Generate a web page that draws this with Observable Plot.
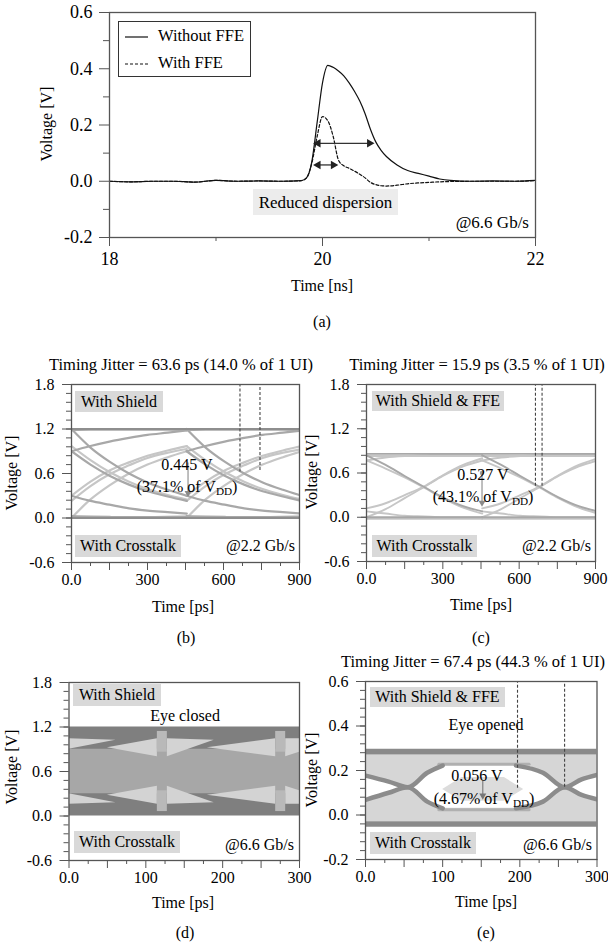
<!DOCTYPE html>
<html><head><meta charset="utf-8">
<script src="https://cdn.jsdelivr.net/npm/d3@7"></script>
<script src="https://cdn.jsdelivr.net/npm/@observablehq/plot@0.6"></script>
<style>
body{margin:0;background:#fff;}
#fig{position:relative;width:608px;height:948px;font-family:"Liberation Serif","Times New Roman",serif;color:#000;overflow:hidden;background:#fff}
.t{position:absolute;white-space:nowrap;line-height:1;font-family:inherit}
.box{position:absolute;display:flex;align-items:center;justify-content:center;white-space:nowrap;line-height:1;font-family:inherit}
sub{font-size:0.7em;vertical-align:-0.25em;line-height:0}
</style></head><body><div id="fig"></div><script>
// ---------------- DATA ----------------
// (a) pulse response, time in ns, voltage in V
const aTime = [18.0,18.2,18.4,18.6,18.8,19.0,19.2,19.4,19.6,19.8,19.85,19.9,19.95,20.0,20.05,20.1,20.15,20.2,20.25,20.3,20.35,20.4,20.45,20.5,20.55,20.6,20.7,20.8,20.9,21.0,21.1,21.2,21.4,21.6,21.8,22.0];
const aWithoutFFE = [0.000,-0.002,0.000,0.000,-0.003,0.003,0.000,0.001,0.000,0.002,0.012,0.07,0.21,0.35,0.412,0.405,0.392,0.375,0.35,0.32,0.285,0.24,0.185,0.14,0.11,0.088,0.058,0.038,0.028,0.018,0.008,0.003,0.000,0.001,0.000,0.003];
const aWithFFE = [0.000,-0.002,0.000,0.000,-0.003,0.003,0.000,0.001,0.000,0.002,0.012,0.065,0.16,0.23,0.215,0.16,0.075,0.055,0.046,0.036,0.025,0.012,-0.004,-0.012,-0.016,-0.017,-0.014,-0.009,-0.006,-0.004,-0.002,-0.001,0.000,0.000,0.000,0.002];
const aArrowY = [0.135, 0.058];
const aArrowX1 = [19.93, 19.93];
const aArrowX2 = [20.47, 20.13];

// (b) eye at 2.2 Gb/s with shield, time within one UI (ps)
const bUIStart = [0, 454.5];
const bTraceT = [0, 75, 150, 227, 300, 380, 455];
const bHighFlat  = [1.20,1.20,1.20,1.20,1.20,1.20,1.20];
const bHighFlat2 = [1.185,1.19,1.19,1.19,1.19,1.19,1.185];
const bLowFlat   = [0.00,0.00,0.00,0.00,0.00,0.00,0.00];
const bLowFlat2  = [0.025,0.018,0.014,0.012,0.012,0.014,0.02];
const bFallFull  = [1.20,0.95,0.76,0.60,0.48,0.38,0.30];
const bFallPart  = [0.90,0.72,0.57,0.45,0.36,0.29,0.23];
const bFallPart2 = [0.97,0.78,0.62,0.49,0.39,0.31,0.25];
const bRiseFull  = [0.00,0.25,0.44,0.60,0.72,0.82,0.90];
const bRisePart  = [0.30,0.49,0.64,0.75,0.84,0.91,0.97];
const bRisePart2 = [0.23,0.43,0.59,0.71,0.81,0.88,0.93];
const bHoldHigh  = [0.90,0.97,1.03,1.08,1.12,1.15,1.18];
const bHoldLow   = [0.30,0.23,0.18,0.13,0.10,0.08,0.06];
const bArrow = [460, 0.75, 0.31];           // t, from V, to V
const bJitterT = [665, 744];
const bJitterEnd = [0.62, 0.64];

// (c) eye at 2.2 Gb/s with shield & FFE
const cUIStart = [0, 454.5];
const cTraceT = [0, 75, 150, 227, 300, 380, 455];
const cHighFlat  = [0.86,0.86,0.86,0.86,0.86,0.86,0.86];
const cHighFlat2 = [0.83,0.83,0.83,0.83,0.83,0.83,0.83];
const cLowFlat   = [0.00,0.00,0.00,0.00,0.00,0.00,0.00];
const cLowFlat2  = [-0.02,-0.02,-0.02,-0.02,-0.02,-0.02,-0.02];
const cFallA = [0.84,0.71,0.56,0.41,0.27,0.15,0.08];
const cFallB = [0.77,0.66,0.54,0.40,0.26,0.13,0.05];
const cRiseA = [0.00,0.11,0.26,0.41,0.56,0.69,0.77];
const cRiseB = [0.12,0.19,0.30,0.42,0.57,0.71,0.80];
const cHoldHigh = [0.77,0.81,0.83,0.84,0.85,0.85,0.85];
const cHoldLow  = [0.08,0.05,0.02,0.01,0.00,0.00,0.00];
const cArrow = [454, 0.60, 0.17];
const cJitterT = [664, 690];
const cJitterEnd = [0.42, 0.42];

// (d) closed eye at 6.6 Gb/s: filled density regions [t1, t2, lo1, lo2, hi1, hi2]
const dBand = [0, 300, 0.0, 0.0, 1.2, 1.2];
const dMiddle = [0, 300, 0.30, 0.30, 0.90, 0.90];
const dLightWedges = [
  [0, 61, 0.90, 1.02, 1.04, 1.02], [50, 115, 0.92, 0.80, 0.92, 1.04],
  [128, 189, 0.80, 1.02, 1.04, 1.02], [180, 269, 0.92, 0.80, 0.92, 1.04],
  [282, 300, 0.80, 0.86, 1.04, 1.04],
  [0, 61, 0.16, 0.18, 0.30, 0.18], [50, 115, 0.28, 0.16, 0.28, 0.40],
  [128, 189, 0.16, 0.18, 0.40, 0.18], [180, 269, 0.28, 0.16, 0.28, 0.40],
  [282, 300, 0.16, 0.16, 0.40, 0.34]
];
const dPatches = [[115, 128, 0.86, 1.14], [269, 282, 0.86, 1.14], [115, 128, 0.06, 0.34], [269, 282, 0.06, 0.34]];

// (e) eye at 6.6 Gb/s with shield & FFE
const eFill = [0, 300, -0.03, 0.27];
const eTopBand = [0, 300, 0.27, 0.295];
const eBotBand = [0, 300, -0.055, -0.03];
const eEyeT  = [56, 95, 212, 258];
const eEyeLo = [0.125, 0.03, 0.03, 0.125];
const eEyeHi = [0.125, 0.222, 0.222, 0.125];
const eLeftEyeT  = [0, 30, 55];   const eLeftEyeLo  = [0.068, 0.10, 0.125]; const eLeftEyeHi  = [0.177, 0.15, 0.125];
const eRightEyeT = [258, 280, 300]; const eRightEyeLo = [0.125, 0.09, 0.07]; const eRightEyeHi = [0.125, 0.16, 0.18];
const eInnerT  = [100, 125, 180, 205];
const eInnerLo = [0.115, 0.062, 0.062, 0.115];
const eInnerHi = [0.115, 0.168, 0.168, 0.115];
const eEdgeT = [95, 212];  const eEdgeTop = [0.228, 0.228]; const eEdgeBot = [0.024, 0.024];
const eDarkT1 = [0, 30, 55, 80, 100];     const eDarkV1 = [0.177, 0.15, 0.125, 0.19, 0.222];
const eDarkT2 = [0, 30, 55, 80, 100];     const eDarkV2 = [0.068, 0.10, 0.125, 0.06, 0.03];
const eDarkT3 = [195, 230, 258, 280, 300]; const eDarkV3 = [0.222, 0.19, 0.125, 0.16, 0.18];
const eDarkT4 = [195, 230, 258, 280, 300]; const eDarkV4 = [0.03, 0.06, 0.125, 0.09, 0.07];
const eArrow = [152, 0.153, 0.078];
const eJitterT = [197, 258];
const eJitterEnd = [0.12, 0.125];

// ---------------- HELPERS ----------------
const FONT = '"Liberation Serif","Times New Roman",serif';
const fig = document.getElementById("fig");
const vfmt = d => (d < -1e-9 ? "-" : "") + Math.abs(d).toFixed(1);
const EYE = {dark: "#8e8e8e", mid: "#a8a8a8", light: "#c6c6c6"};

function addPlot(o) {
  const [fx0, fy0, fx1, fy1] = o.frame;
  const svg = Plot.plot({
    width: o.width, height: o.height,
    marginLeft: fx0 - o.left, marginRight: o.left + o.width - fx1,
    marginTop: fy0 - o.top, marginBottom: o.top + o.height - fy1,
    x: {domain: o.xDomain, axis: null},
    y: {domain: o.yDomain, axis: null},
    style: {fontFamily: FONT, fontSize: o.fs + "px", background: "transparent", overflow: "visible", color: "#000"},
    marks: [
      ...o.marks,
      Plot.frame({stroke: "#555", strokeWidth: 1.3}),
      Plot.axisX(o.xMinor, {tickSize: o.xTick[1], tickFormat: () => "", stroke: "#555", label: null}),
      Plot.axisX(o.xMajor, {tickSize: o.xTick[0], tickPadding: o.xPad, tickFormat: o.xFmt, stroke: "#555", fill: "#000", fontSize: o.fs, label: null}),
      Plot.axisY(o.yMinor, {tickSize: o.yTick[1], tickFormat: () => "", stroke: "#555", label: null}),
      Plot.axisY(o.yMajor, {tickSize: o.yTick[0], tickPadding: o.yPad, tickFormat: vfmt, stroke: "#555", fill: "#000", fontSize: o.fs, label: null})
    ]
  });
  svg.style.position = "absolute";
  svg.style.left = o.left + "px";
  svg.style.top = o.top + "px";
  fig.appendChild(svg);
}
function txt(html, x, y, fs, anchor = "middle") {
  const d = document.createElement("div");
  d.className = "t";
  d.innerHTML = html;
  d.style.left = x + "px"; d.style.top = y + "px"; d.style.fontSize = fs + "px";
  const tx = anchor === "middle" ? "-50%" : anchor === "end" ? "-100%" : "0";
  d.style.transform = `translate(${tx},-50%)`;
  fig.appendChild(d);
}
function rotTxt(html, x, y, fs) {
  const d = document.createElement("div");
  d.className = "t"; d.innerHTML = html;
  d.style.left = x + "px"; d.style.top = y + "px"; d.style.fontSize = fs + "px";
  d.style.transform = "translate(-50%,-50%) rotate(-90deg)";
  fig.appendChild(d);
}
function box(html, x, y, w, h, fs, bg) {
  const d = document.createElement("div");
  d.className = "box"; d.innerHTML = html;
  Object.assign(d.style, {left: x + "px", top: y + "px", width: w + "px", height: h + "px", fontSize: fs + "px", background: bg});
  fig.appendChild(d);
}
function eyeRows(T, traces, uis) {
  const rows = [];
  traces.forEach(([vals, shade], k) => uis.forEach((u, j) => vals.forEach((v, i) => rows.push({key: k + "-" + j, t: u + T[i], v, shade}))));
  return rows;
}
function eyeMarks(rows, w) {
  return ["light", "mid", "dark"].map(s => Plot.line(rows.filter(r => r.shade === s),
    {x: "t", y: "v", z: "key", stroke: EYE[s], strokeWidth: w, curve: "monotone-x", clip: true}));
}
function downArrow(a, color) {
  return [
    Plot.link([a], {x1: d => d[0], x2: d => d[0], y1: d => d[1], y2: d => d[2], stroke: color, strokeWidth: 1.1}),
    Plot.dot([a], {x: d => d[0], y: d => d[2], symbol: "triangle", rotate: 180, r: 2.6, fill: color, stroke: "none", dy: -2})
  ];
}
function jitterRules(T, E, top) {
  return Plot.ruleX(T.map((t, i) => ({t, e: E[i]})), {x: "t", y1: "e", y2: top, stroke: "#444", strokeWidth: 1.1, strokeDasharray: "3,2"});
}
function rectsOf(list, fill) {
  return Plot.areaY(list.flatMap((r, k) => [{k, t: r[0], lo: r[2], hi: r[4]}, {k, t: r[1], lo: r[3], hi: r[5]}]),
    {x: "t", y1: "lo", y2: "hi", z: "k", fill, clip: true});
}
function hexArea(T, Lo, Hi, fill, curve = "linear") {
  return Plot.areaY(T.map((t, i) => ({t, lo: Lo[i], hi: Hi[i]})), {x: "t", y1: "lo", y2: "hi", fill, curve});
}

// ---------------- PANEL (a) ----------------
const aRows = aTime.flatMap((t, i) => [{t, v: aWithoutFFE[i], s: "Without FFE"}, {t, v: aWithFFE[i], s: "With FFE"}]);
const aArr = aArrowY.map((y, i) => ({y, x1: aArrowX1[i], x2: aArrowX2[i]}));
addPlot({
  left: 0, top: 0, width: 608, height: 275, frame: [109, 12, 535, 237], fs: 18,
  xDomain: [18, 22], yDomain: [-0.2, 0.6],
  xMajor: [18, 20, 22], xMinor: [19, 21], xTick: [9, 4], xPad: 6, xFmt: d => String(d),
  yMajor: [-0.2, 0, 0.2, 0.4, 0.6], yMinor: [-0.1, 0.1, 0.3, 0.5], yTick: [10, 6], yPad: 7,
  marks: [
    Plot.line(aRows.filter(d => d.s === "Without FFE"), {x: "t", y: "v", stroke: "#111", strokeWidth: 1.2, curve: "monotone-x"}),
    Plot.line(aRows.filter(d => d.s === "With FFE"), {x: "t", y: "v", stroke: "#111", strokeWidth: 1.2, strokeDasharray: "3,2", curve: "monotone-x"}),
    Plot.link(aArr, {x1: "x1", x2: "x2", y1: "y", y2: "y", stroke: "#333", strokeWidth: 1.3}),
    Plot.dot(aArr, {x: "x1", y: "y", symbol: "triangle", rotate: -90, r: 3.2, fill: "#222", dx: 3}),
    Plot.dot(aArr, {x: "x2", y: "y", symbol: "triangle", rotate: 90, r: 3.2, fill: "#222", dx: -3})
  ]
});
// legend
const lg = document.createElement("div");
Object.assign(lg.style, {position: "absolute", left: "118px", top: "21px", width: "131px", height: "54px", border: "1px solid #333", background: "#fff"});
lg.innerHTML = `<svg width="131" height="54" style="position:absolute;left:0;top:0">
<line x1="6" x2="29" y1="15" y2="15" stroke="#111" stroke-width="1.2"/>
<line x1="6" x2="29" y1="42" y2="42" stroke="#111" stroke-width="1.2" stroke-dasharray="3,2"/></svg>`;
fig.appendChild(lg);
txt("Without FFE", 158, 36, 16.5, "start");
txt("With FFE", 158, 63, 16.5, "start");
box("Reduced dispersion", 253, 189, 145, 26, 17, "#ececec");
txt("@6.6 Gb/s", 529, 222, 17, "end");
rotTxt("Voltage [V]", 47, 124, 16);
txt("Time [ns]", 322, 286, 16);
txt("(a)", 322, 322, 16);

// ---------------- PANEL (b) ----------------
const bRows = eyeRows(bTraceT, [
  [bRisePart2, "light"], [bRiseFull, "light"], [bRisePart, "light"], [bFallPart2, "light"],
  [bHighFlat2, "mid"], [bLowFlat2, "mid"], [bFallFull, "mid"], [bFallPart, "mid"], [bHoldHigh, "mid"], [bHoldLow, "mid"],
  [bHighFlat, "dark"], [bLowFlat, "dark"]
], bUIStart);
const xps900 = {xDomain: [0, 900], xMajor: [0, 150, 300, 450, 600, 750, 900], xMinor: [75, 225, 375, 525, 675, 825],
  xTick: [8, 4], xPad: 3, xFmt: d => d === 0 ? "0.0" : (d % 300 === 0 ? String(d) : "")};
const y18 = {yDomain: [-0.6, 1.8], yMajor: [-0.6, 0, 0.6, 1.2, 1.8], yMinor: d3.range(-0.6, 1.801, 0.12), yTick: [9, 5], yPad: 8};
addPlot({
  left: 0, top: 375, width: 304, height: 220, frame: [71, 384, 299, 562], fs: 16, ...xps900, ...y18,
  marks: [...eyeMarks(bRows, 2.2), jitterRules(bJitterT, bJitterEnd, 1.8), ...downArrow(bArrow, "#8a8a8a")]
});
txt("Timing Jitter = 63.6 ps (14.0 % of 1 UI)", 181, 365, 16.5);
box("With Shield", 75, 391, 88, 21, 16, "#d9d9d9");
box("With Crosstalk", 75, 535, 106, 22, 16, "#d9d9d9");
txt("@2.2 Gb/s", 295, 546, 16, "end");
txt("0.445 V", 187, 465, 16);
txt("(37.1% of V<sub>DD</sub>)", 187, 487, 16);
rotTxt("Voltage [V]", 12, 473, 16);
txt("Time [ps]", 183, 607, 16);
txt("(b)", 186, 638, 16);

// ---------------- PANEL (c) ----------------
const cRows = eyeRows(cTraceT, [
  [cRiseA, "light"], [cRiseB, "light"], [cFallB, "light"], [cHoldHigh, "light"], [cHoldLow, "light"],
  [cHighFlat2, "light"], [cLowFlat2, "light"],
  [cFallA, "mid"], [cHighFlat, "mid"], [cLowFlat, "mid"]
], cUIStart);
addPlot({
  left: 304, top: 375, width: 304, height: 220, frame: [366, 384, 595, 561], fs: 16, ...xps900, ...y18,
  marks: [...eyeMarks(cRows, 1.9), jitterRules(cJitterT, cJitterEnd, 1.8), ...downArrow(cArrow, "#8a8a8a"),
    Plot.dot([cArrow], {x: d => d[0], y: d => d[1], r: 2.2, fill: "#999"})]
});
txt("Timing Jitter = 15.9 ps (3.5 % of 1 UI)", 477, 365, 16.5);
box("With Shield &amp; FFE", 372, 391, 132, 20, 16, "#d9d9d9");
box("With Crosstalk", 372, 535, 105, 22, 16, "#d9d9d9");
txt("@2.2 Gb/s", 591, 546, 16, "end");
txt("0.527 V", 483, 475, 16);
txt("(43.1% of V<sub>DD</sub>)", 483, 497, 16);
rotTxt("Voltage [V]", 312, 472, 16);
txt("Time [ps]", 481, 605, 16);
txt("(c)", 481, 638, 16);

// ---------------- PANEL (d) ----------------
const xps300 = {xDomain: [0, 300], xMajor: [0, 50, 100, 150, 200, 250, 300], xMinor: [25, 75, 125, 175, 225, 275],
  xTick: [8, 4], xPad: 3, xFmt: d => d === 0 ? "0.0" : (d % 100 === 0 ? String(d) : "")};
addPlot({
  left: 0, top: 670, width: 304, height: 220, frame: [68.5, 682, 299, 860], fs: 16, ...xps300, ...y18,
  marks: [
    rectsOf([dBand], "#7f7f7f"),
    rectsOf([dMiddle], "#a7a7a7"),
    rectsOf(dLightWedges, "#d3d3d3"),
    Plot.rect(dPatches, {x1: d => d[0], x2: d => d[1], y1: d => d[2], y2: d => d[3], fill: "#b9b9b9"})
  ]
});
box("With Shield", 73, 684, 88, 22, 16, "#d9d9d9");
txt("Eye closed", 185, 716, 16);
box("With Crosstalk", 74, 831, 106, 22, 16, "#d9d9d9");
txt("@6.6 Gb/s", 294, 845, 16, "end");
rotTxt("Voltage [V]", 12, 767, 16);
txt("Time [ps]", 183, 903, 16);
txt("(d)", 185, 933, 16);

// ---------------- PANEL (e) ----------------
const eDark = [[eDarkT1, eDarkV1], [eDarkT2, eDarkV2], [eDarkT3, eDarkV3], [eDarkT4, eDarkV4]]
  .flatMap(([T, V], k) => T.map((t, i) => ({k, t, v: V[i]})));
const eEdges = [eEdgeTop, eEdgeBot].flatMap((V, k) => eEdgeT.map((t, i) => ({k, t, v: V[i]})));
addPlot({
  left: 304, top: 670, width: 304, height: 220, frame: [365, 681, 596.5, 859], fs: 16,
  ...xps300, yDomain: [-0.2, 0.6], yMajor: [-0.2, 0, 0.2, 0.4, 0.6], yMinor: d3.range(-0.2, 0.601, 0.04), yTick: [9, 5], yPad: 8,
  marks: [
    rectsOf([[eFill[0], eFill[1], eFill[2], eFill[2], eFill[3], eFill[3]]], "#d6d6d6"),
    hexArea(eEyeT, eEyeLo, eEyeHi, "#fff"),
    hexArea(eLeftEyeT, eLeftEyeLo, eLeftEyeHi, "#fff", "monotone-x"),
    hexArea(eRightEyeT, eRightEyeLo, eRightEyeHi, "#fff", "monotone-x"),
    hexArea(eInnerT, eInnerLo, eInnerHi, "#dcdcdc"),
    Plot.line(eEdges, {x: "t", y: "v", z: "k", stroke: "#b0b0b0", strokeWidth: 3}),
    rectsOf([[eTopBand[0], eTopBand[1], eTopBand[2], eTopBand[2], eTopBand[3], eTopBand[3]]], "#8a8a8a"),
    rectsOf([[eBotBand[0], eBotBand[1], eBotBand[2], eBotBand[2], eBotBand[3], eBotBand[3]]], "#8a8a8a"),
    Plot.line(eDark, {x: "t", y: "v", z: "k", stroke: "#8c8c8c", strokeWidth: 4.5, curve: "monotone-x", clip: true}),
    jitterRules(eJitterT, eJitterEnd, 0.6), ...downArrow(eArrow, "#777")
  ]
});
txt("Timing Jitter = 67.4 ps (44.3 % of 1 UI)", 473, 662, 16.5);
box("With Shield &amp; FFE", 370, 687, 135, 20, 16, "#d9d9d9");
txt("Eye opened", 486, 725, 16);
box("With Crosstalk", 370, 832, 106, 22, 16, "#d9d9d9");
txt("@6.6 Gb/s", 592, 845, 16, "end");
txt("0.056 V", 477, 776, 16);
txt("(4.67% of V<sub>DD</sub>)", 484, 799, 16);
rotTxt("Voltage [V]", 312, 770, 16);
txt("Time [ps]", 486, 902, 16);
txt("(e)", 486, 933, 16);
</script></body></html>
